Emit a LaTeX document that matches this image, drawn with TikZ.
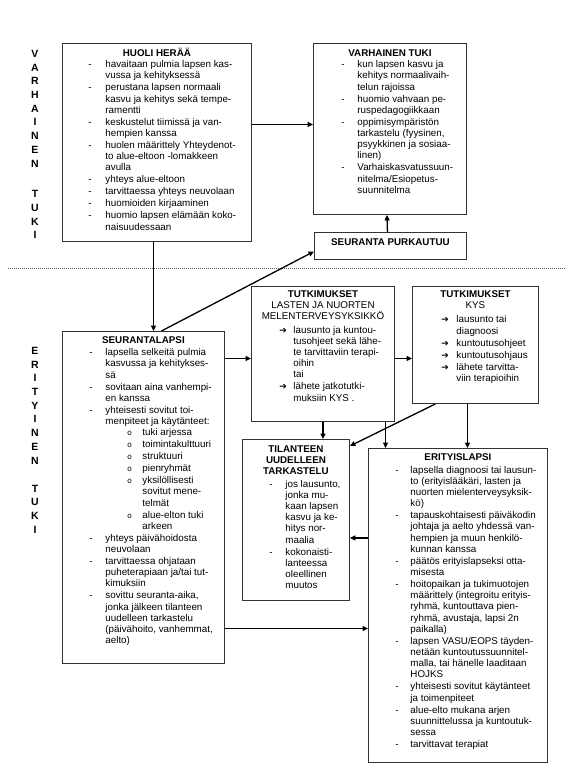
\documentclass[tikz,border=0pt]{standalone}
\usepackage{fontspec}
\setmainfont{Liberation Sans}
\newfontfamily\arrfont{DejaVu Sans}
\usetikzlibrary{arrows.meta}

\newcommand{\arw}{{\arrfont\fontsize{9}{9}\selectfont ➔}}
\newcommand{\crc}{{\fontsize{8}{8}\selectfont o}}
\newenvironment{blist}[3]{%
  \begin{list}{}{%
    \setlength{\leftmargin}{#2}\setlength{\labelwidth}{#2}%
    \setlength{\labelsep}{0pt}\setlength{\itemindent}{0pt}%
    \setlength{\topsep}{0pt}\setlength{\partopsep}{0pt}%
    \setlength{\parsep}{0pt}\setlength{\itemsep}{0.8pt}%
    \setlength{\rightmargin}{0pt}%
    \renewcommand{\makelabel}[1]{\hspace*{#1}#3\hfil}}}%
  {\end{list}}

\begin{document}
\begin{tikzpicture}[x=1pt,y=-1pt,
  bx/.style={draw=black!80,line width=0.9pt,anchor=north west,inner sep=0pt,font=\fontsize{9.8}{11.2}\selectfont},
  arr/.style={-{Triangle[length=5.5pt,width=5pt]},line width=1.3pt},
  side/.style={font=\fontsize{10.5}{13.7}\selectfont\bfseries,align=center,anchor=north,inner sep=0pt},
  sepl/.style={dash pattern=on 1pt off 1pt,line width=0.8pt,gray!70!black}
]
\useasboundingbox (0,0) rectangle (572,778);

\node[side] (varh) at (35,50) {V\\A\\R\\H\\A\\I\\N\\E\\N\\[16.9pt]T\\U\\K\\I};
\node[side] (erit) at (35,347) {E\\R\\I\\T\\Y\\I\\N\\E\\N\\[14.3pt]T\\U\\K\\I};
\draw[sepl] (8,268) -- (565,268);

\node[bx] (huoli) at (62,43) {\parbox[c][198pt][t]{189pt}{%
  {\centering\rule{0pt}{13pt}\textbf{HUOLI HERÄÄ}\par}
  \begin{blist}{26pt}{43pt}{-}
  \item havaitaan pulmia lapsen kas-\\vussa ja kehityksessä
  \item perustana lapsen normaali\\kasvu ja kehitys sekä tempe-\\ramentti
  \item keskustelut tiimissä ja van-\\hempien kanssa
  \item huolen määrittely Yhteydenot-\\to alue-eltoon -lomakkeen\\avulla
  \item yhteys alue-eltoon
  \item tarvittaessa yhteys neuvolaan
  \item huomioiden kirjaaminen
  \item huomio lapsen elämään koko-\\naisuudessaan
  \end{blist}}};

\node[bx] (varhtuki) at (313,43) {\parbox[c][171pt][t]{153pt}{%
  {\centering\rule{0pt}{13pt}\textbf{VARHAINEN TUKI}\par}
  \begin{blist}{28pt}{44pt}{-}
  \item kun lapsen kasvu ja\\kehitys normaalivaih-\\telun rajoissa
  \item huomio vahvaan pe-\\ruspedagogiikkaan
  \item oppimisympäristön\\tarkastelu (fyysinen,\\psyykkinen ja sosiaa-\\linen)
  \item Varhaiskasvatussuun-\\nitelma/Esiopetus-\\suunnitelma
  \end{blist}}};

\node[bx] (purk) at (314,232) {\parbox[c][27pt][t]{152pt}{%
  \centering\rule{0pt}{13pt}\textbf{SEURANTA PURKAUTUU}}};

\node[bx] (seur) at (62,331) {\parbox[c][332pt][t]{162pt}{%
  {\centering\rule{0pt}{12pt}\textbf{SEURANTALAPSI}\par}
  \vspace{1pt}
  \begin{blist}{27pt}{43pt}{-}
  \item lapsella selkeitä pulmia\\kasvussa ja kehitykses-\\sä
  \item sovitaan aina vanhempi-\\en kanssa
  \item yhteisesti sovitut toi-\\menpiteet ja käytänteet:
    \begin{blist}{22pt}{37pt}{\crc}
    \item tuki arjessa
    \item toimintakulttuuri
    \item struktuuri
    \item pienryhmät
    \item yksilöllisesti\\sovitut mene-\\telmät
    \item alue-elton tuki\\arkeen
    \end{blist}
  \item yhteys päivähoidosta\\neuvolaan
  \item tarvittaessa ohjataan\\puheterapiaan ja/tai tut-\\kimuksiin
  \item sovittu seuranta-aika,\\jonka jälkeen tilanteen\\uudelleen tarkastelu\\(päivähoito, vanhemmat,\\aelto)
  \end{blist}}};

\node[bx] (tutlnm) at (251,286) {\parbox[c][135pt][t]{143pt}{%
  {\centering\rule{0pt}{11pt}\textbf{TUTKIMUKSET}\\LASTEN JA NUORTEN\\MELENTERVEYSYKSIKKÖ\par}
  \vspace{2pt}
  \begin{blist}{28pt}{42pt}{\arw}
  \item lausunto ja kuntou-\\tusohjeet sekä lähe-\\te tarvittaviin terapi-\\oihin\\tai
  \item lähete jatkotutki-\\muksiin KYS .
  \end{blist}}};

\node[bx] (tutkys) at (412,286) {\parbox[c][117pt][t]{126pt}{%
  {\centering\rule{0pt}{11pt}\textbf{TUTKIMUKSET}\\KYS\par}
  \vspace{3pt}
  \begin{blist}{29pt}{44pt}{\arw}
  \item lausunto tai\\diagnoosi
  \item kuntoutusohjeet
  \item kuntoutusohjaus
  \item lähete tarvitta-\\viin terapioihin
  \end{blist}}};

\node[bx] (tilanne) at (242,439) {\parbox[c][161pt][t]{107pt}{%
  {\centering\rule{0pt}{13pt}\textbf{TILANTEEN}\\\textbf{UUDELLEEN}\\\textbf{TARKASTELU}\par}
  \vspace{1pt}
  \begin{blist}{27pt}{43pt}{-}
  \item jos lausunto,\\jonka mu-\\kaan lapsen\\kasvu ja ke-\\hitys nor-\\maalia
  \item kokonaisti-\\lanteessa\\oleellinen\\muutos
  \end{blist}}};

\node[bx] (erityis) at (368,448) {\parbox[c][314pt][t]{179pt}{%
  {\centering\rule{0pt}{12pt}\textbf{ERITYISLAPSI}\par}
  \vspace{1.5pt}
  \begin{blist}{27pt}{42pt}{-}
  \item lapsella diagnoosi tai lausun-\\to (erityislääkäri, lasten ja\\nuorten mielenterveysyksik-\\kö)
  \item tapauskohtaisesti päiväkodin\\johtaja ja aelto yhdessä van-\\hempien ja muun henkilö-\\kunnan kanssa
  \item päätös erityislapseksi otta-\\misesta
  \item hoitopaikan ja tukimuotojen\\määrittely (integroitu erityis-\\ryhmä, kuntouttava pien-\\ryhmä, avustaja, lapsi 2n\\paikalla)
  \item lapsen VASU/EOPS täyden-\\netään kuntoutussuunnitel-\\malla, tai hänelle laaditaan\\HOJKS
  \item yhteisesti sovitut käytänteet\\ja toimenpiteet
  \item alue-elto mukana arjen\\suunnittelussa ja kuntoutuk-\\sessa
  \item tarvittavat terapiat
  \end{blist}}};

\draw[arr] ([yshift=18pt]huoli.east) -- ([yshift=18pt]huoli.east -| varhtuki.west);
\draw[arr] ([xshift=-3pt]purk.north) -- ([xshift=-3pt]varhtuki.south);
\draw[arr] ([xshift=-3.5pt]huoli.south) -- ([xshift=-3.5pt]huoli.south |- seur.north);
\draw[arr] ([xshift=18pt]seur.north) -- ([yshift=-5.5pt]purk.west);
\draw[arr] ([yshift=-4.5pt]tutlnm.west -| seur.east) -- ([yshift=-4.5pt]tutlnm.west);
\draw[arr] ([yshift=-4.5pt]tutlnm.east) -- ([yshift=-4.5pt]tutlnm.east -| tutkys.west);
\draw[arr] (tutlnm.south) -- (tutlnm.south |- tilanne.north);
\draw[arr] ([xshift=62.5pt]tutlnm.south) -- ([xshift=62.5pt]tutlnm.south |- erityis.north);
\draw[arr] ([xshift=-40pt]tutkys.south) -- ([yshift=-7pt]tilanne.north east);
\draw[arr] ([xshift=-8pt]tutkys.south) -- ([xshift=-8pt]tutkys.south |- erityis.north);
\draw[arr] ([yshift=-18pt]tilanne.east -| erityis.west) -- ([yshift=-18pt]tilanne.east);
\draw[arr] ([yshift=-131pt]seur.east) -- ([yshift=-131pt]seur.east -| erityis.west);
\end{tikzpicture}
\end{document}
